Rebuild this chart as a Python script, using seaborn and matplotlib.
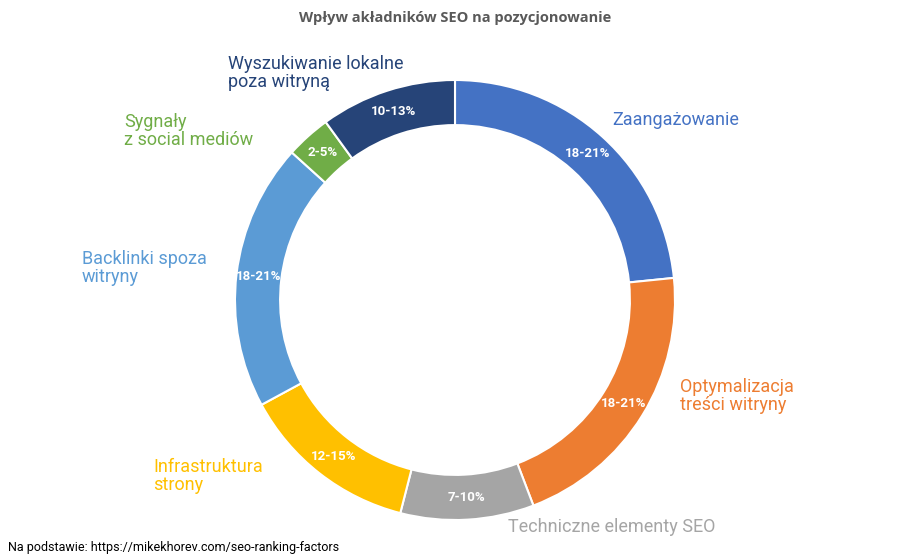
import matplotlib
matplotlib.use("Agg")
import matplotlib.pyplot as plt
import seaborn as sns
import numpy as np

categories = ["Zaangażowanie", "Optymalizacja\ntreści witryny", "Techniczne elementy SEO",
              "Infrastruktura\nstrony", "Backlinki spoza\nwitryny", "Sygnały\nz social mediów",
              "Wyszukiwanie lokalne\npoza witryną"]
values = [23.4, 20.8, 9.8, 13.1, 19.6, 3.3, 10.0]
ranges = ["18-21%", "18-21%", "7-10%", "12-15%", "18-21%", "2-5%", "10-13%"]
colors = ["#4472C4", "#ED7D31", "#A5A5A5", "#FFC000", "#5B9BD5", "#70AD47", "#264478"]
label_px = [(612, 120), (680, 396), (508, 527), (153, 476), (82, 268), (124, 131), (228, 73)]

sns.set_theme(style="white")
plt.rcParams['font.family'] = ['Roboto', 'DejaVu Sans']

W, H = 912, 560
fig = plt.figure(figsize=(W / 100, H / 100), dpi=100)
cx, cy, R = 455, 300, 220
ax = fig.add_axes([(cx - R) / W, (H - cy - R) / H, 2 * R / W, 2 * R / H])
wedges, _ = ax.pie(values, colors=colors, startangle=90, counterclock=False,
                   wedgeprops=dict(width=0.205, edgecolor="white", linewidth=1.5))
ax.set_xlim(-1, 1); ax.set_ylim(-1, 1); ax.set_aspect("equal"); ax.axis("off")

for w, t in zip(wedges, ranges):
    a = np.deg2rad((w.theta1 + w.theta2) / 2)
    ax.text(0.9 * np.cos(a), 0.9 * np.sin(a), t, ha="center", va="center",
            color="white", fontsize=9.5, fontweight="bold")

for (px, py), c, col in zip(label_px, categories, colors):
    fig.text(px / W, 1 - py / H, c, ha="left", va="center", color=col,
             fontsize=13, linespacing=1.05)

fig.text(cx / W, 1 - 18 / H, "Wpływ akładników SEO na pozycjonowanie", ha="center", va="center",
         fontsize=10.5, fontweight="bold", color="#595959", family=["Open Sans", "DejaVu Sans"])
fig.text(8 / W, 1 - 547 / H, "Na podstawie: https://mikekhorev.com/seo-ranking-factors",
         ha="left", va="center", fontsize=9, color="black")

fig.savefig("out.png", dpi=100)
